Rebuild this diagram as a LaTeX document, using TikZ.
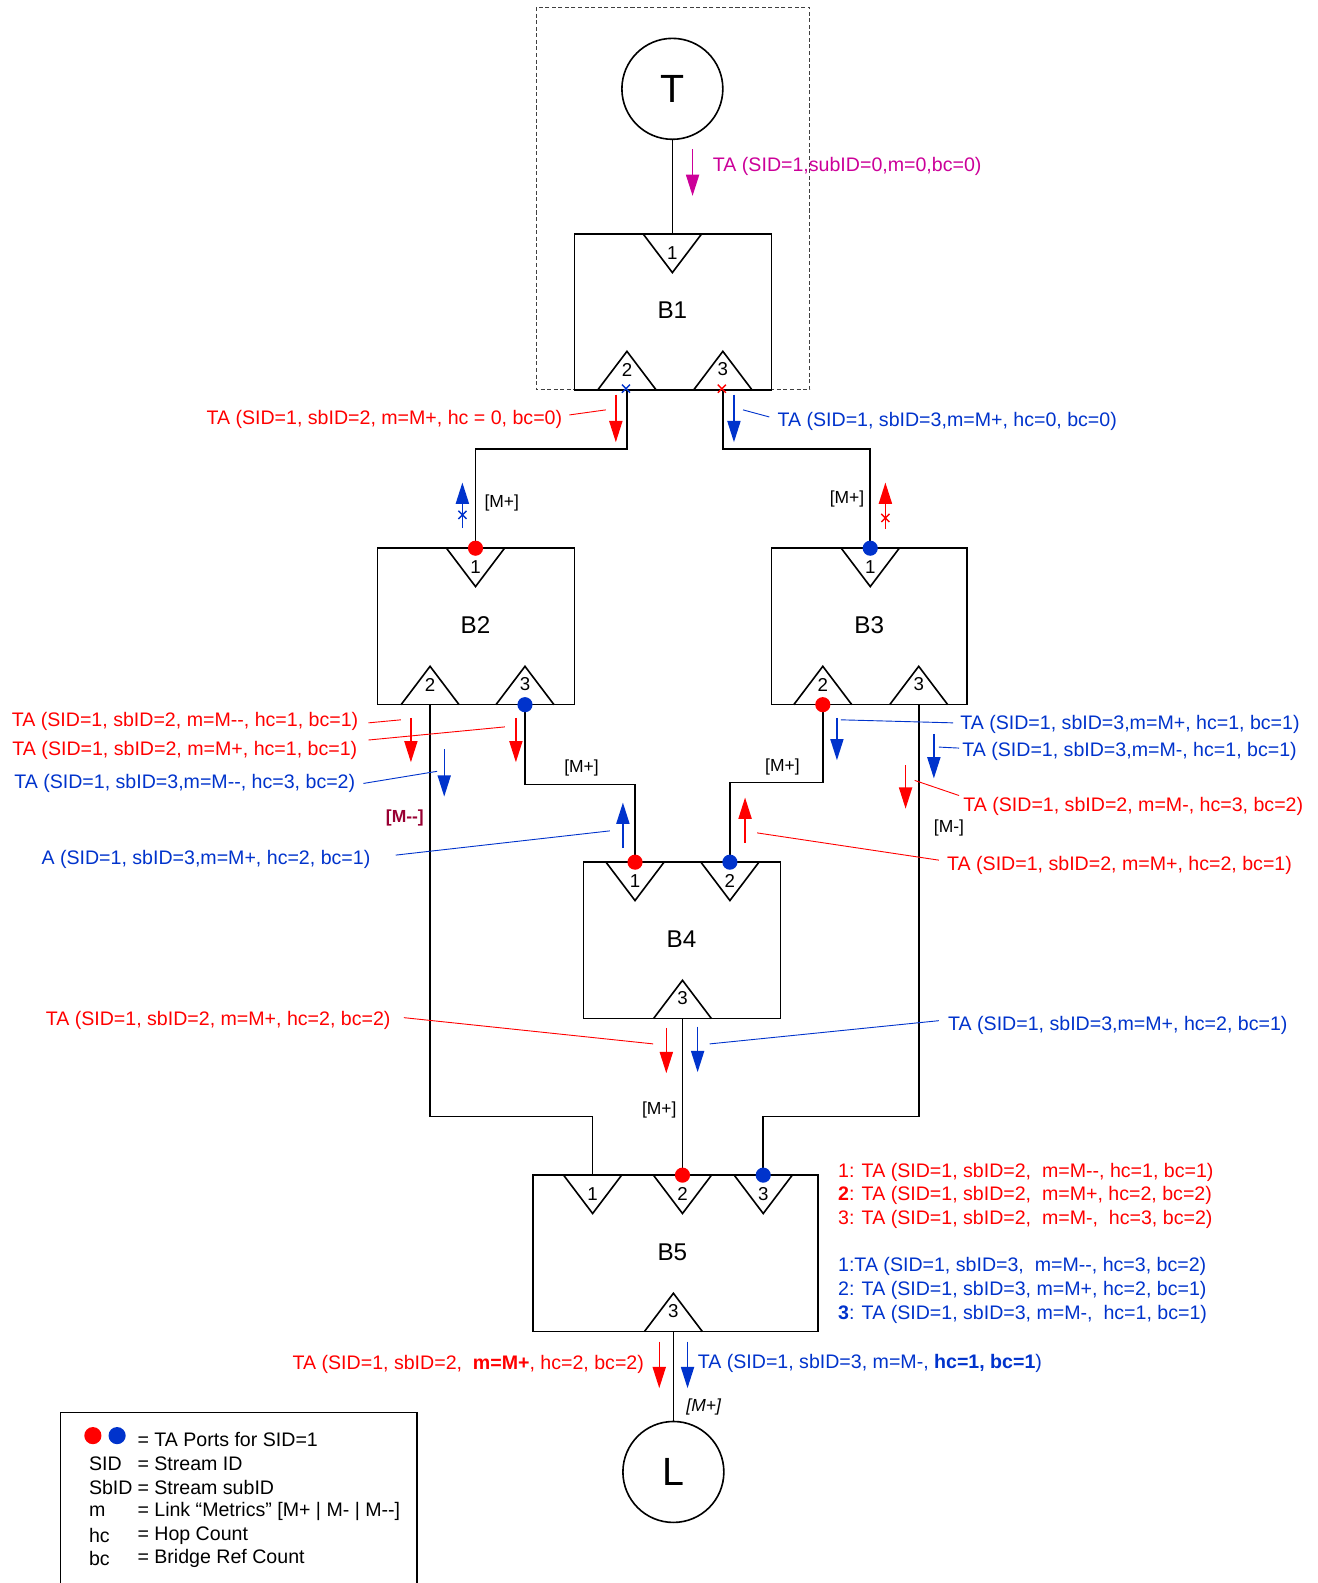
\documentclass[tikz,border=0pt]{standalone}
\usepackage{fontspec}
\setmainfont{Liberation Sans}
\usetikzlibrary{arrows.meta}
\definecolor{tared}{RGB}{255,0,0}
\definecolor{tablue}{RGB}{0,51,204}
\definecolor{tamag}{RGB}{204,0,153}
\definecolor{tadark}{RGB}{153,0,51}
\newcommand\twodash{-\kern0pt-}
\newcommand\portin[4]{\coordinate (#1) at (#2,#3);
  \draw[boxline] (#2-28.75,#3) -- (#2,#3+38) -- (#2+28.75,#3);
  \node[portnum] (#1n) at (#2,#3+19) {#4};}
\newcommand\portout[4]{\coordinate (#1) at (#2,#3);
  \draw[boxline] (#2-28.75,#3) -- (#2,#3-38) -- (#2+28.75,#3);
  \node[portnum] (#1n) at (#2,#3-20) {#4};}
\newcommand\crossmark[3]{\draw[#1, line width=1.4pt] (#2-4,#3-4) -- (#2+4,#3+4) (#2-4,#3+4) -- (#2+4,#3-4);}
\tikzset{
 boxline/.style={line width=1.6pt, black},
 bridge/.style={draw, line width=1.6pt, minimum width=195pt, minimum height=155pt, inner sep=0pt, font=\fontsize{24}{28}\selectfont},
 term/.style={draw, circle, line width=1.6pt, minimum size=100pt, inner sep=0pt, font=\fontsize{39}{40}\selectfont},
 portnum/.style={inner sep=0pt, font=\fontsize{18.5}{20}\selectfont},
 link/.style={line width=1.6pt},
 flow/.style={line width=1.4pt, -{Triangle[width=13pt,length=21pt]}},
 lead/.style={line width=0.9pt},
 lbl/.style={inner sep=0pt, yshift=-2pt, font=\fontsize{19.4}{23}\selectfont},
 metric/.style={inner sep=0pt, yshift=-2pt, font=\fontsize{17.3}{20}\selectfont},
 dotr/.style={circle, fill=tared, inner sep=0pt, minimum size=15pt},
 dotb/.style={circle, fill=tablue, inner sep=0pt, minimum size=15pt},
}
\begin{document}
\begin{tikzpicture}[x=1pt,y=-1pt]
\useasboundingbox (0,0) rectangle (1305,1568);
\fill[white] (0,0) rectangle (1305,1568);

% dashed frame
\draw[line width=0.9pt, black!75, dash pattern=on 4pt off 2.5pt] (531,7) rectangle (802,386);

% terminals and bridges
\node[term] (T) at (666,88) {T};
\node[term] (L) at (667,1458) {L};
\node[bridge] (B1) at (666.5,309) {};
\node[inner sep=0pt, font=\fontsize{24}{28}\selectfont] (B1t) at (666,307) {B1};
\node[bridge] (B2) at (471.5,620.5) {};
\node[inner sep=0pt, font=\fontsize{24}{28}\selectfont] (B2t) at (471,619) {B2};
\node[bridge, minimum width=194pt] (B3) at (861,620.5) {};
\node[inner sep=0pt, font=\fontsize{24}{28}\selectfont] (B3t) at (861,619) {B3};
\node[bridge] (B4) at (675.5,931.5) {};
\node[inner sep=0pt, font=\fontsize{24}{28}\selectfont] (B4t) at (675,930) {B4};
\node[bridge, minimum width=282pt] (B5) at (669,1241.5) {};
\node[inner sep=0pt, font=\fontsize{24}{28}\selectfont] (B5t) at (666,1240) {B5};

% ports
\portin{b1p1}{666}{232}{1}
\portout{b1p2}{621}{386}{2}
\portout{b1p3}{716}{386}{3}
\portin{b2p1}{471}{543}{1}
\portout{b2p2}{426}{698}{2}
\portout{b2p3}{520}{698}{3}
\portin{b3p1}{862}{543}{1}
\portout{b3p2}{815}{698}{2}
\portout{b3p3}{910}{698}{3}
\portin{b4p1}{629}{854}{1}
\portin{b4p2}{723}{854}{2}
\portout{b4p3}{676}{1009}{3}
\portin{b5p1}{587}{1164}{1}
\portin{b5p2}{676}{1164}{2}
\portin{b5p3}{756}{1164}{3}
\portout{b5p4}{667}{1319}{3}

% links
\draw[link] (T) -- (b1p1);
\draw[link] (b1p2) -- ++(0,59) -| (b2p1);
\draw[link] (b1p3) -- ++(0,59) -| (b3p1);
\draw[link] (b2p3) -- ++(0,79) -| (b4p1);
\draw[link] (b3p2) -- ++(0,77) -| (b4p2);
\draw[link] (b2p2) -- ++(0,408) -| (b5p1);
\draw[link] (b3p3) -- ++(0,408) -| (b5p3);
\draw[link] (b4p3) -- (b5p2);
\draw[link] (b5p4) -- (L);

% TA port dots
\node[dotr] (d1) at (b2p1) {};
\node[dotr] (d2) at (b4p1) {};
\node[dotr] (d3) at (b3p2) {};
\node[dotr] (d4) at (b5p2) {};
\node[dotb] (d5) at (b3p1) {};
\node[dotb] (d6) at (b2p3) {};
\node[dotb] (d7) at (b4p2) {};
\node[dotb] (d8) at (b5p3) {};

% blocked marks at B1
\crossmark{tablue}{620}{385}
\crossmark{tared}{715}{385}

% flow arrows
\draw[flow, tamag] (686,148) -- (686,194);
\draw[flow, tared] (610,391) -- (610,438);
\draw[flow, tablue] (727,391) -- (727,438);
\draw[flow, tablue] (458,523) -- (458,478);
\crossmark{tablue}{458}{510}
\draw[flow, tared] (877,524) -- (877,478);
\crossmark{tared}{877}{513}
\draw[flow, tared] (407,711) -- (407,755);
\draw[flow, tared] (511,711) -- (511,755);
\draw[flow, tablue] (440,742) -- (440,789);
\draw[flow, tablue] (617,840) -- (617,795);
\draw[flow, tablue] (829,711) -- (829,753);
\draw[flow, tablue] (925,727) -- (925,771);
\draw[flow, tared] (897,758) -- (897,801);
\draw[flow, tared] (738,835) -- (738,790);
\draw[flow, tared] (660,1018) -- (660,1063);
\draw[flow, tablue] (691,1017) -- (691,1062);
\draw[flow, tared] (653,1329) -- (653,1375);
\draw[flow, tablue] (681,1329) -- (681,1375);

% leader lines
\draw[lead, tared] (564,411) -- (600,406);
\draw[lead, tablue] (736,406) -- (762,413);
\draw[lead, tared] (365,716) -- (397,713);
\draw[lead, tared] (365,733) -- (500,720);
\draw[lead, tablue] (360,776) -- (433,764);
\draw[lead, tablue] (392,847) -- (604,823);
\draw[lead, tablue] (833,713) -- (944,716);
\draw[lead, tablue] (930,740) -- (950,741);
\draw[lead, tared] (906,773) -- (950,788);
\draw[lead, tared] (750,825) -- (930,852);
\draw[lead, tared] (400,1008) -- (647,1034);
\draw[lead, tablue] (703,1034) -- (930,1011);

% labels
\node[lbl, text=tamag, anchor=west] (t1) at (706,163) {TA (SID=1,subID=0,m=0,bc=0)};
\node[lbl, text=tared, anchor=east] (t2) at (557,413) {TA (SID=1, sbID=2, m=M+, hc = 0, bc=0)};
\node[lbl, text=tablue, anchor=west] (t3) at (770,415) {TA (SID=1, sbID=3,m=M+, hc=0, bc=0)};
\node[metric] (m1) at (497,496) {[M+]};
\node[metric] (m2) at (839,492) {[M+]};
\node[lbl, text=tared, anchor=east] (t4) at (355,713) {TA (SID=1, sbID=2, m=M\twodash, hc=1, bc=1)};
\node[lbl, text=tared, anchor=east] (t5) at (354,741) {TA (SID=1, sbID=2, m=M+, hc=1, bc=1)};
\node[lbl, text=tablue, anchor=east] (t6) at (352,774) {TA (SID=1, sbID=3,m=M\twodash, hc=3, bc=2)};
\node[metric, text=tadark, font=\fontsize{17.3}{20}\selectfont\bfseries] (m3) at (401,808) {[M\twodash]};
\node[metric] (m4) at (576,759) {[M+]};
\node[lbl, text=tablue, anchor=east] (t7) at (367,849) {A (SID=1, sbID=3,m=M+, hc=2, bc=1)};
\node[lbl, text=tablue, anchor=west] (t8) at (951,716) {TA (SID=1, sbID=3,m=M+, hc=1, bc=1)};
\node[lbl, text=tablue, anchor=west] (t9) at (953,742) {TA (SID=1, sbID=3,m=M-, hc=1, bc=1)};
\node[lbl, text=tared, anchor=west] (t10) at (954,797) {TA (SID=1, sbID=2, m=M-, hc=3, bc=2)};
\node[metric] (m5) at (940,818) {[M-]};
\node[metric] (m6) at (775,758) {[M+]};
\node[lbl, text=tared, anchor=west] (t11) at (938,855) {TA (SID=1, sbID=2, m=M+, hc=2, bc=1)};
\node[lbl, text=tared, anchor=east] (t12) at (387,1009) {TA (SID=1, sbID=2, m=M+, hc=2, bc=2)};
\node[lbl, text=tablue, anchor=west] (t13) at (939,1014) {TA (SID=1, sbID=3,m=M+, hc=2, bc=1)};
\node[metric] (m7) at (653,1097) {[M+]};

% B5 port summary
\node[lbl, text=tared, anchor=west] (s1) at (830,1159) {1: TA (SID=1, sbID=2,\ \ m=M\twodash, hc=1, bc=1)};
\node[lbl, text=tared, anchor=west] (s2) at (830,1182) {\textbf{2}: TA (SID=1, sbID=2,\ \ m=M+, hc=2, bc=2)};
\node[lbl, text=tared, anchor=west] (s3) at (830,1206) {3: TA (SID=1, sbID=2,\ \ m=M-,\ \ hc=3, bc=2)};
\node[lbl, text=tablue, anchor=west] (s4) at (830,1252) {1:TA (SID=1, sbID=3,\ \ m=M\twodash, hc=3, bc=2)};
\node[lbl, text=tablue, anchor=west] (s5) at (830,1276) {2: TA (SID=1, sbID=3, m=M+, hc=2, bc=1)};
\node[lbl, text=tablue, anchor=west] (s6) at (830,1300) {\textbf{3}: TA (SID=1, sbID=3, m=M-,\ \ hc=1, bc=1)};

% B5 output
\node[lbl, text=tared, anchor=east] (t14) at (638,1349) {TA (SID=1, sbID=2,\ \ \textbf{m=M+}, hc=2, bc=2)};
\node[lbl, text=tablue, anchor=west] (t15) at (691,1348) {TA (SID=1, sbID=3, m=M-, \textbf{hc=1, bc=1})};
\node[metric, font=\fontsize{17.3}{20}\selectfont\itshape] (m8) at (697,1392) {[M+]};

% legend
\draw[line width=1.3pt] (60,1590) -- (60,1399) -- (413,1399) -- (413,1590);
\node[dotr, minimum size=17pt] (lg1) at (92,1422) {};
\node[dotb, minimum size=17pt] (lg2) at (116,1422) {};
\node[lbl, anchor=west] (lg3) at (136,1424) {= TA Ports for SID=1};
\node[lbl, anchor=west] (lg4) at (88,1448) {SID};
\node[lbl, anchor=west] (lg5) at (136,1448) {= Stream ID};
\node[lbl, anchor=west] (lg6) at (88,1471) {SbID};
\node[lbl, anchor=west] (lg7) at (136,1471) {= Stream subID};
\node[lbl, anchor=west] (lg8) at (88,1495) {m};
\node[lbl, anchor=west] (lg9) at (136,1495) {= Link “Metrics” [M+ | M- | M\twodash]};
\node[lbl, anchor=west] (lg10) at (88,1519) {hc};
\node[lbl, anchor=west] (lg11) at (136,1519) {= Hop Count};
\node[lbl, anchor=west] (lg12) at (88,1542) {bc};
\node[lbl, anchor=west] (lg13) at (136,1542) {= Bridge Ref Count};
\end{tikzpicture}
\end{document}
